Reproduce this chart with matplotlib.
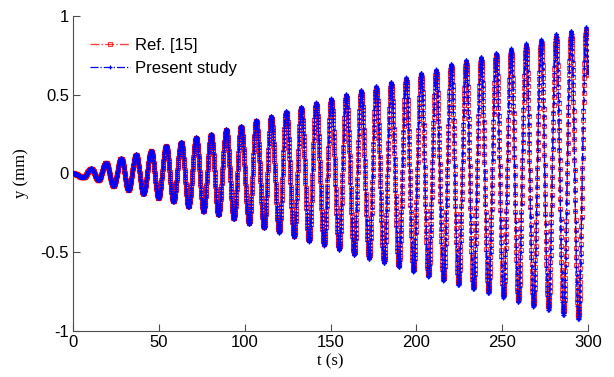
import numpy as np
import matplotlib.pyplot as plt

plt.rcParams['axes.unicode_minus'] = False

# positive peaks of the response
peak_t = [10.5, 19.2, 28.0, 36.7, 45.5, 54.2, 63.0, 71.7, 80.4, 89.2,
          97.8, 106.6, 115.3, 124.1, 132.8, 141.5, 150.3, 159.0, 167.7, 176.5,
          185.2, 193.9, 202.7, 211.4, 220.2, 228.9, 237.6, 246.4, 255.1, 263.8,
          272.6, 281.3, 290.0, 298.8]
peak_y = [0.032, 0.068, 0.096, 0.121, 0.144, 0.176, 0.201, 0.229, 0.250, 0.280,
          0.301, 0.339, 0.364, 0.396, 0.423, 0.451, 0.476, 0.502, 0.529, 0.554,
          0.581, 0.609, 0.639, 0.660, 0.694, 0.719, 0.740, 0.765, 0.793, 0.825,
          0.850, 0.884, 0.905, 0.930]

# negative peaks
trough_t = [6.0, 14.7, 23.5, 32.2, 40.9, 49.7, 58.4, 67.2, 75.9, 84.6,
            93.6, 102.5, 111.2, 120.0, 128.7, 137.4, 146.2, 154.9, 163.7, 172.4,
            181.1, 189.7, 198.2, 206.9, 215.7, 224.4, 233.1, 241.9, 250.6, 259.3,
            268.1, 276.8, 285.6, 294.3]
trough_y = [-0.025, -0.042, -0.080, -0.105, -0.131, -0.158, -0.179, -0.215, -0.243, -0.264,
            -0.290, -0.321, -0.348, -0.376, -0.405, -0.433, -0.458, -0.486, -0.517, -0.543,
            -0.570, -0.595, -0.623, -0.655, -0.681, -0.708, -0.735, -0.760, -0.788, -0.817,
            -0.845, -0.866, -0.898, -0.925]

t_start, y_start = 0.0, 0.0
t_end, y_end = 300.0, 0.64
ref_ratio = 0.975   # Ref. [15] peaks sit a little inside the present ones


def through_extrema(knot_t, knot_y, t):
    # half-cosine between consecutive extrema
    idx = np.clip(np.searchsorted(knot_t, t, side='right') - 1, 0, len(knot_t) - 2)
    t0, t1 = knot_t[idx], knot_t[idx + 1]
    y0, y1 = knot_y[idx], knot_y[idx + 1]
    s = (t - t0) / (t1 - t0)
    return y0 + (y1 - y0) * (1 - np.cos(np.pi * s)) / 2


ext_t = np.array([t_start] + peak_t + trough_t + [t_end])
ext_y = np.array([y_start] + peak_y + trough_y + [y_end])
order = np.argsort(ext_t)
ext_t, ext_y = ext_t[order], ext_y[order]

t_ref = np.arange(0, 300.001, 0.1)
y_ref = ref_ratio * through_extrema(ext_t, ext_y, t_ref)
t_now = np.arange(0, 300.001, 0.1)
y_now = through_extrema(ext_t, ext_y, t_now)

fig = plt.figure(figsize=(6.14, 3.77), dpi=100)
ax = fig.add_axes([0.119, 0.122, 0.839, 0.836])

ax.plot(t_ref, y_ref, '-.', color='red', alpha=0.75, lw=1, zorder=2,
        marker='s', ms=3.5, mfc='none', mec='red', mew=0.8, label='Ref. [15]')
ax.plot(t_now, y_now, '-.', color='blue', lw=0.9, zorder=3,
        marker='+', ms=2.8, mew=0.9, label='Present study')

ax.set_xlim(0, 300)
ax.set_ylim(-1, 1)
ax.set_xticks([0, 50, 100, 150, 200, 250, 300])
ax.set_yticks([-1, -0.5, 0, 0.5, 1])
ax.set_yticklabels(['-1', '-0.5', '0', '0.5', '1'])

for side in ['top', 'right']:
    ax.spines[side].set_visible(False)
for side in ['left', 'bottom']:
    ax.spines[side].set_color('0.3')
ax.tick_params(direction='in', length=5, color='0.3', labelsize=12, pad=3)
for lab in ax.get_xticklabels() + ax.get_yticklabels():
    lab.set_family('Liberation Sans')

ax.set_xlabel('t (s)', family='Liberation Serif', fontsize=12, labelpad=2)
ax.set_ylabel('y (mm)', family='Liberation Serif', fontsize=12, labelpad=8)

ax.legend(loc='upper left', bbox_to_anchor=(0.02, 0.95), frameon=False,
          prop={'family': 'Liberation Sans', 'size': 12},
          handlelength=2.4, handletextpad=0.3, labelspacing=0.45, borderaxespad=0)

fig.savefig('out.png', dpi=100)
